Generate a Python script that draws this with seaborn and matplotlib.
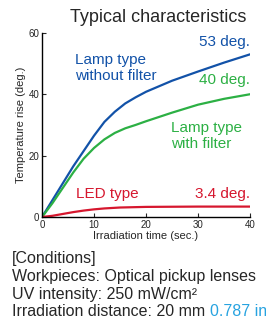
import pandas as pd
import numpy as np
import seaborn as sns
import matplotlib.pyplot as plt

# Valeurs (temps en s, élévation en deg.)
time_blue = [0, 2, 4, 6, 8, 10, 12, 14, 16, 18, 20, 25, 30, 35, 40]
rise_blue = [0, 5.5, 11, 16.5, 21.5, 26.5, 31, 34.3, 37, 39, 40.8, 44.4, 47.4, 50.3, 53]
time_green = [0, 2, 4, 6, 8, 10, 12, 14, 16, 18, 20, 25, 30, 35, 40]
rise_green = [0, 4.5, 9.5, 14.5, 19, 22.5, 25.3, 27.4, 28.9, 30, 31.2, 34, 36.6, 38.5, 40]
time_red = [0, 2, 4, 6, 8, 10, 12, 15, 20, 30, 40]
rise_red = [0, 0.4, 1.0, 1.6, 2.1, 2.5, 2.8, 3.1, 3.3, 3.4, 3.4]
series = ["Lamp type without filter", "Lamp type with filter", "LED type"]
x_ticks = [0, 10, 20, 30, 40]
y_ticks = [0, 20, 40, 60]

df = pd.concat([
    pd.DataFrame({"time": time_blue, "rise": rise_blue, "type": series[0]}),
    pd.DataFrame({"time": time_green, "rise": rise_green, "type": series[1]}),
    pd.DataFrame({"time": time_red, "rise": rise_red, "type": series[2]}),
])

blue = "#1252a8"
green = "#2cb044"
red = "#d6172e"
cyan = "#27a3e0"
palette = {series[0]: blue, series[1]: green, series[2]: red}

sns.set_style("ticks")
plt.rcParams["font.family"] = ["Liberation Sans", "DejaVu Sans"]

fig = plt.figure(figsize=(2.66, 3.22), dpi=100)
ax = fig.add_axes([0.158, 0.326, 0.782, 0.572])
sns.lineplot(data=df, x="time", y="rise", hue="type", palette=palette,
             linewidth=1.6, legend=False, ax=ax)

ax.set_xlim(0, 40)
ax.set_ylim(0, 60)
ax.set_xticks(x_ticks)
ax.set_yticks(y_ticks)
ax.tick_params(direction="in", length=3, width=0.8, labelsize=7, pad=2)
for s in ["top", "right"]:
    ax.spines[s].set_visible(False)
for s in ["left", "bottom"]:
    ax.spines[s].set_linewidth(1.0)
    ax.spines[s].set_color("black")
ax.set_xlabel("Irradiation time (sec.)", fontsize=8, labelpad=1)
ax.set_ylabel("Temperature rise (deg.)", fontsize=8, labelpad=2)

# Étiquettes des courbes
ax.text(6.3, 48.5, "Lamp type\nwithout filter", color=blue, fontsize=11,
        ha="left", va="center", linespacing=1.15)
ax.text(40, 57, "53 deg.", color=blue, fontsize=11, ha="right", va="center")
ax.text(40, 44.6, "40 deg.", color=green, fontsize=11, ha="right", va="center")
ax.text(24.8, 26.5, "Lamp type\nwith filter", color=green, fontsize=11,
        ha="left", va="center", linespacing=1.15)
ax.text(6.5, 7.5, "LED type", color=red, fontsize=11, ha="left", va="center")
ax.text(40, 7.5, "3.4 deg.", color=red, fontsize=11, ha="right", va="center")

fig.text(158 / 266, 1 - 17 / 322, "Typical characteristics", fontsize=13,
         ha="center", va="center")

# Conditions
lines = ["[Conditions]", "Workpieces: Optical pickup lenses",
         "UV intensity: 250 mW/cm²", "Irradiation distance: 20 mm "]
ys = [258, 276, 294, 311]
t = None
for txt, y in zip(lines, ys):
    t = fig.text(12 / 266, 1 - y / 322, txt, fontsize=11.5, ha="left", va="center")
ax.annotate("0.787 in", xy=(1, 0.5), xycoords=t, color=cyan, fontsize=11.5,
            ha="left", va="center")

fig.savefig("out.png", dpi=100)
